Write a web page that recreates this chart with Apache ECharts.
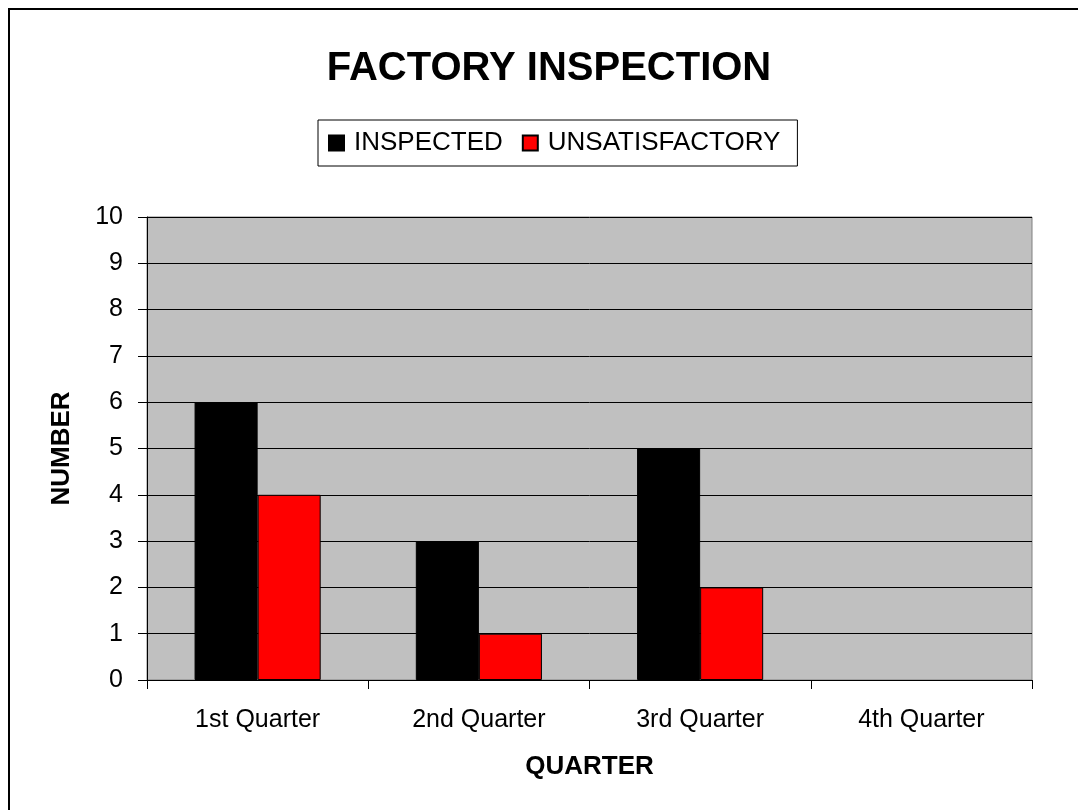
<!DOCTYPE html>
<html>
<head>
<meta charset="utf-8">
<script src="https://cdn.jsdelivr.net/npm/echarts@6/dist/echarts.min.js"></script>
<style>
  html, body { margin: 0; padding: 0; background: #fff; }
  #chart { width: 1078px; height: 810px; }
</style>
</head>
<body>
<div id="chart"></div>
<script>
const quarters = ["1st Quarter", "2nd Quarter", "3rd Quarter", "4th Quarter"];
const inspected = [6, 3, 5, null];
const unsatisfactory = [4, 1, 2, null];
const yTicks = { min: 0, max: 10, step: 1 };

const FONT = "Arial, 'Liberation Sans', sans-serif";
const chart = echarts.init(document.getElementById("chart"));

function barSeries(name, data, color) {
  return {
    name: name,
    type: "bar",
    data: data,
    barGap: "0%",
    barCategoryGap: "43%",
    itemStyle: { color: color, borderColor: "#000", borderWidth: 1 }
  };
}

chart.setOption({
  animation: false,
  backgroundColor: "#fff",
  graphic: [
    {
      type: "rect",
      shape: { x: 9, y: 9, width: 1100, height: 830 },
      style: { fill: "none", stroke: "#000", lineWidth: 2 },
      z: -1
    },
    {
      type: "text",
      x: 549,
      y: 69,
      style: {
        text: "FACTORY INSPECTION",
        font: "bold 40px " + FONT,
        fill: "#000",
        textAlign: "center",
        textVerticalAlign: "middle"
      }
    }
  ],
  legend: {
    left: 318,
    top: 120,
    padding: [10, 17, 10, 10],
    borderColor: "#000",
    borderWidth: 1,
    itemWidth: 15,
    itemHeight: 15,
    itemGap: 19,
    icon: "rect",
    textStyle: { fontFamily: FONT, fontSize: 26, color: "#000", padding: [2, 0, 0, 5] },
    data: ["INSPECTED", "UNSATISFACTORY"]
  },
  grid: {
    left: 147,
    right: 46,
    top: 217,
    bottom: 130,
    show: true,
    backgroundColor: "#C0C0C0",
    borderColor: "#808080",
    borderWidth: 1
  },
  xAxis: {
    type: "category",
    data: quarters,
    name: "QUARTER",
    nameLocation: "middle",
    nameGap: 74,
    nameTextStyle: { fontFamily: FONT, fontSize: 26, fontWeight: "bold", color: "#000" },
    axisLine: { lineStyle: { color: "#000", width: 1 } },
    axisTick: { show: true, length: 9, lineStyle: { color: "#000" } },
    axisLabel: { fontFamily: FONT, fontSize: 25, color: "#000", margin: 28 }
  },
  yAxis: {
    type: "value",
    min: yTicks.min,
    max: yTicks.max,
    interval: yTicks.step,
    name: "NUMBER",
    nameLocation: "middle",
    nameGap: 72,
    nameTextStyle: { fontFamily: FONT, fontSize: 26, fontWeight: "bold", color: "#000" },
    axisLine: { show: true, lineStyle: { color: "#000", width: 1 } },
    axisTick: { show: true, length: 9, lineStyle: { color: "#000" } },
    axisLabel: { fontFamily: FONT, fontSize: 25, color: "#000", margin: 24 },
    splitLine: { show: true, lineStyle: { color: "#000", width: 1 } }
  },
  series: [
    barSeries("INSPECTED", inspected, "#000000"),
    barSeries("UNSATISFACTORY", unsatisfactory, "#FF0000")
  ]
});
</script>
</body>
</html>
